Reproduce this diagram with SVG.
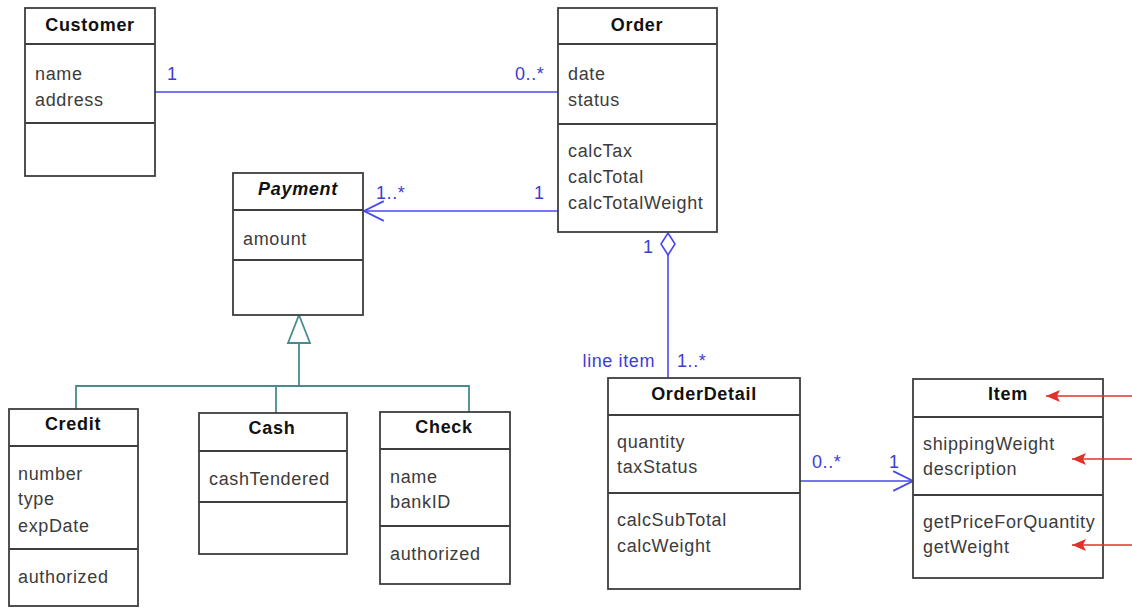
<svg xmlns="http://www.w3.org/2000/svg" width="1132" height="608" viewBox="0 0 1132 608">
  <style>
    .box { fill: #ffffff; stroke: #3e3e3e; stroke-width: 1.8; }
    .div { stroke: #3e3e3e; stroke-width: 1.8; }
    .title { font-family: "Liberation Sans", Arial, sans-serif; font-size: 18px; font-weight: bold; fill: #111111; text-anchor: middle; letter-spacing: 0.7px; }
    .attr { font-family: "Liberation Sans", Arial, sans-serif; font-size: 18px; fill: #3c3c3c; letter-spacing: 0.65px; }
    .assoc { stroke: #4848f2; stroke-width: 1.6; fill: none; }
    .mult { font-family: "Liberation Sans", Arial, sans-serif; font-size: 18px; fill: #3c3cd6; letter-spacing: 0.6px; }
    .gen { stroke: #478c8c; stroke-width: 1.8; fill: none; }
    .note { stroke: #e0322c; stroke-width: 1.5; fill: none; }
  </style>
  <defs>
    <marker id="open" markerUnits="userSpaceOnUse" markerWidth="22" markerHeight="22" viewBox="0 0 20 20" refX="19" refY="10" orient="auto">
      <path d="M1,1 L19,10 L1,19" fill="none" stroke="#4848f2" stroke-width="1.6"/>
    </marker>
    <marker id="redhead" markerUnits="userSpaceOnUse" markerWidth="16" markerHeight="14" viewBox="0 0 16 14" refX="15" refY="7" orient="auto">
      <path d="M15,7 L1,1 L4,7 L1,13 Z" fill="#e0322c"/>
    </marker>
  </defs>

  <rect width="1132" height="608" fill="#ffffff"/>

  <!-- associations, aggregation and generalization -->
  <g id="connectors">
    <line class="assoc" x1="155" y1="92" x2="558" y2="92"/>
    <text class="mult" x="167" y="80">1</text>
    <text class="mult" x="515" y="80">0..*</text>

    <line class="assoc" x1="558" y1="211" x2="364" y2="211" marker-end="url(#open)"/>
    <text class="mult" x="376" y="199">1..*</text>
    <text class="mult" x="534" y="199">1</text>

    <line class="assoc" x1="668" y1="255" x2="668" y2="378"/>
    <polygon points="668,233 675,244 668,255 661,244" fill="#ffffff" stroke="#4848f2" stroke-width="1.6"/>
    <text class="mult" x="643" y="253">1</text>
    <text class="mult" x="655" y="367" text-anchor="end">line item</text>
    <text class="mult" x="677" y="367">1..*</text>

    <line class="assoc" x1="800" y1="481" x2="913" y2="481" marker-end="url(#open)"/>
    <text class="mult" x="812" y="468">0..*</text>
    <text class="mult" x="889" y="468">1</text>

    <polyline class="gen" points="76,409 76,386 469,386 469,412"/>
    <line class="gen" x1="276" y1="386" x2="276" y2="413"/>
    <line class="gen" x1="299" y1="386" x2="299" y2="343"/>
    <polygon points="299,315 310,343 288,343" fill="#ffffff" stroke="#478c8c" stroke-width="1.8"/>
  </g>

  <g id="customer">
    <rect class="box" x="25" y="8" width="130" height="168"/>
    <line class="div" x1="25" y1="44" x2="155" y2="44"/>
    <line class="div" x1="25" y1="123" x2="155" y2="123"/>
    <text class="title" x="90" y="31">Customer</text>
    <text class="attr" x="35" y="80">name</text>
    <text class="attr" x="35" y="106">address</text>
  </g>

  <g id="order">
    <rect class="box" x="558" y="8" width="159" height="224"/>
    <line class="div" x1="558" y1="44" x2="717" y2="44"/>
    <line class="div" x1="558" y1="124" x2="717" y2="124"/>
    <text class="title" x="637" y="31">Order</text>
    <text class="attr" x="568" y="80">date</text>
    <text class="attr" x="568" y="106">status</text>
    <text class="attr" x="568" y="157">calcTax</text>
    <text class="attr" x="568" y="183">calcTotal</text>
    <text class="attr" x="568" y="209">calcTotalWeight</text>
  </g>

  <g id="payment">
    <rect class="box" x="233" y="173" width="130" height="142"/>
    <line class="div" x1="233" y1="210" x2="363" y2="210"/>
    <line class="div" x1="233" y1="260" x2="363" y2="260"/>
    <text class="title" x="298" y="195" font-style="italic">Payment</text>
    <text class="attr" x="243" y="245">amount</text>
  </g>

  <g id="credit">
    <rect class="box" x="9" y="409" width="129" height="197"/>
    <line class="div" x1="9" y1="446" x2="138" y2="446"/>
    <line class="div" x1="9" y1="549" x2="138" y2="549"/>
    <text class="title" x="73" y="430">Credit</text>
    <text class="attr" x="18" y="480">number</text>
    <text class="attr" x="18" y="505">type</text>
    <text class="attr" x="18" y="532">expDate</text>
    <text class="attr" x="18" y="583">authorized</text>
  </g>

  <g id="cash">
    <rect class="box" x="199" y="413" width="148" height="141"/>
    <line class="div" x1="199" y1="451" x2="347" y2="451"/>
    <line class="div" x1="199" y1="502" x2="347" y2="502"/>
    <text class="title" x="272" y="434">Cash</text>
    <text class="attr" x="209" y="485">cashTendered</text>
  </g>

  <g id="check">
    <rect class="box" x="380" y="412" width="130" height="172"/>
    <line class="div" x1="380" y1="449" x2="510" y2="449"/>
    <line class="div" x1="380" y1="526" x2="510" y2="526"/>
    <text class="title" x="444" y="433">Check</text>
    <text class="attr" x="390" y="483">name</text>
    <text class="attr" x="390" y="508">bankID</text>
    <text class="attr" x="390" y="560">authorized</text>
  </g>

  <g id="orderdetail">
    <rect class="box" x="608" y="378" width="192" height="211"/>
    <line class="div" x1="608" y1="415" x2="800" y2="415"/>
    <line class="div" x1="608" y1="493" x2="800" y2="493"/>
    <text class="title" x="704" y="400">OrderDetail</text>
    <text class="attr" x="617" y="448">quantity</text>
    <text class="attr" x="617" y="473">taxStatus</text>
    <text class="attr" x="617" y="526">calcSubTotal</text>
    <text class="attr" x="617" y="552">calcWeight</text>
  </g>

  <g id="item">
    <rect class="box" x="913" y="379" width="190" height="199"/>
    <line class="div" x1="913" y1="417" x2="1103" y2="417"/>
    <line class="div" x1="913" y1="495" x2="1103" y2="495"/>
    <text class="title" x="1008" y="400">Item</text>
    <text class="attr" x="923" y="450">shippingWeight</text>
    <text class="attr" x="923" y="475">description</text>
    <text class="attr" x="923" y="528">getPriceForQuantity</text>
    <text class="attr" x="923" y="553">getWeight</text>
  </g>

  <!-- pointer arrows entering the Item class from the right edge -->
  <g id="pointers">
    <line class="note" x1="1132" y1="396" x2="1046" y2="396" marker-end="url(#redhead)"/>
    <line class="note" x1="1132" y1="459" x2="1072" y2="459" marker-end="url(#redhead)"/>
    <line class="note" x1="1132" y1="545" x2="1072" y2="545" marker-end="url(#redhead)"/>
  </g>
</svg>
